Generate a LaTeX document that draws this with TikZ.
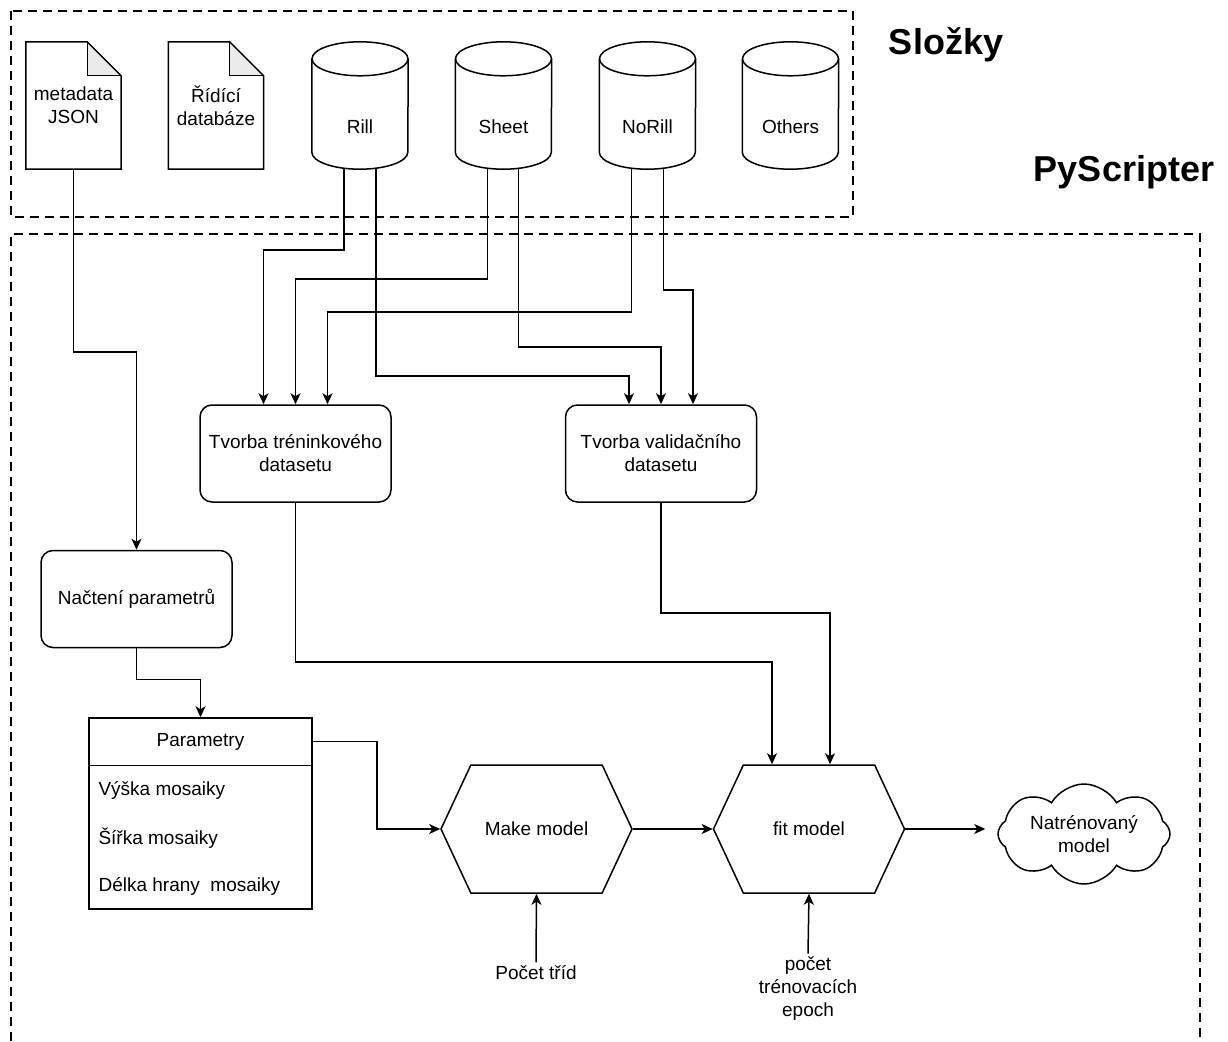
\documentclass[tikz,border=0pt]{standalone}
\usepackage{fontspec}
\setmainfont{Liberation Sans}
\usetikzlibrary{shapes.geometric,shapes.symbols,arrows.meta}
\definecolor{fold}{RGB}{235,235,235}

\begin{document}
\begin{tikzpicture}[x=1pt,y=-1pt,
	every node/.style={font=\fontsize{19}{23}\selectfont,align=center},
	flow/.style={draw=black,line width=1.5pt,-{Stealth[length=11pt,width=10pt,inset=3pt]}},
	outline/.style={draw=black,line width=1.5pt},
	group/.style={draw=black,line width=2.2pt,dash pattern=on 9pt off 6pt},
	doc/.style={minimum width=95,minimum height=127,inner sep=0pt},
	db/.style={minimum width=96,minimum height=127,inner sep=0pt},
	task/.style={outline,rectangle,rounded corners=12pt,minimum width=191,minimum height=97},
	hexa/.style={outline,signal,signal to=west and east,signal pointer angle=130,minimum width=191,minimum height=128,inner sep=0pt},
	cloudy/.style={outline,cloud,cloud puffs=8,cloud puff arc=120,minimum width=172,minimum height=100,inner sep=0pt},
	title/.style={font=\fontsize{36}{40}\selectfont\bfseries}]
	\useasboundingbox (0,0) rectangle (1228,1041);

	% dashed groups
	\draw[group] (11,11) rectangle (853,217);
	\draw[group] (11,1041) -- (11,234) -- (1200,234) -- (1200,1041);
	\node[title] (slozky) at (946,45) {Složky};
	\node[title] (pyscripter) at (1124,172) {PyScripter};

	% files
	\node[doc] (json) at (73.5,105.5) {metadata\\JSON};
	\node[doc] (ridici) at (216,105.5) {Řídící\\databáze};
	\foreach \d in {json,ridici} {
		\fill[fold] ([xshift=-34pt]\d.north east) -- ([xshift=-34pt,yshift=-34pt]\d.north east) -- ([yshift=-34pt]\d.north east) -- cycle;
		\draw[line width=1pt] ([xshift=-34pt]\d.north east) |- ([yshift=-34pt]\d.north east);
		\draw[outline] (\d.north west) -- ([xshift=-34pt]\d.north east) -- ([yshift=-34pt]\d.north east) -- (\d.south east) -- (\d.south west) -- cycle;
	}

	% folders
	\node[db,label={[yshift=-21pt]center:Rill}] (rill) at (360,105.5) {};
	\node[db,label={[yshift=-21pt]center:Sheet}] (sheet) at (503.5,105.5) {};
	\node[db,label={[yshift=-21pt]center:NoRill}] (norill) at (647.5,105.5) {};
	\node[db,label={[yshift=-21pt]center:Others}] (others) at (790.5,105.5) {};
	\foreach \c in {rill,sheet,norill,others} {
		\draw[outline] ([yshift=-17pt]\c.north west) -- ([yshift=17pt]\c.south west)
			arc[start angle=180,end angle=360,x radius=48pt,y radius=17pt] -- ([yshift=-17pt]\c.north east);
		\draw[outline] ([yshift=-17pt]\c.north) ellipse[x radius=48pt,y radius=17pt];
	}

	% processing
	\node[task] (train) at (295.5,453.5) {Tvorba tréninkového\\datasetu};
	\node[task] (val) at (661,453.5) {Tvorba validačního\\datasetu};
	\node[task] (nacteni) at (136.5,599) {Načtení parametrů};

	\node[outline,minimum width=223,minimum height=191] (par) at (200.5,813.5) {};
	\draw[outline] (par.north west) ++(0,48) -- ++(223,0);
	\node (parhead) at (200.5,742) {Parametry};
	\node[anchor=west] (vyska) at (95,790) {Výška mosaiky};
	\node[anchor=west] (sirka) at (95,838) {Šířka mosaiky};
	\node[anchor=west] (delka) at (95,886) {Délka hrany~ mosaiky};

	\node[hexa] (make) at (536.5,829) {Make model};
	\node[hexa] (fit) at (809,829) {fit model};
	\node[cloudy,label={center:{Natrénovaný\\model}}] (cloud) at (1084,834) {};

	\node (trid) at (536,973) {Počet tříd};
	\node (epoch) at (808,989) {počet\\trénovacích\\epoch};

	% connectors
	\foreach \a/\dx/\dy/\b/\ex in {rill/-16/81/train/-32,rill/16/207/val/-32,sheet/-16/110/train/0,sheet/15/178/val/0,norill/-16/143/train/32,norill/16/121/val/32}
		\draw[flow] ([xshift=\dx pt]\a.south) -- ++(0,\dy) -| ([xshift=\ex pt]\b.north);

	\draw[flow] (json.south) -- ++(0,183) -| (nacteni.north);
	\draw[flow] (nacteni.south) -- ++(0,31) -| (par.north);
	\draw[flow] ([yshift=-24pt]par.north east) -- ++(64,0) |- (make.west);
	\draw[flow] (train.south) -- ++(0,159) -| ([xshift=-37pt]fit.north);
	\draw[flow] (val.south) -- ++(0,110) -| ([xshift=21pt]fit.north);
	\draw[flow] (make.east) -- (fit.west);
	\draw[flow,shorten >=12pt] (fit.east) -- (fit.east -| cloud.west);
	\draw[flow] (trid.north) -- (make.south);
	\draw[flow] (epoch.north) -- (fit.south);
\end{tikzpicture}
\end{document}
